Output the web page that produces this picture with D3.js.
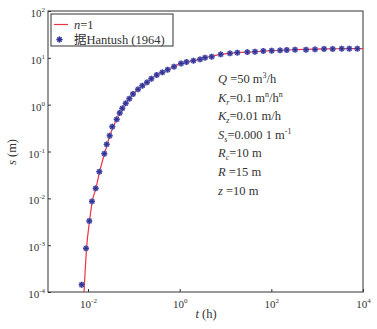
<!DOCTYPE html>
<html><head><meta charset="utf-8">
<script src="https://cdn.jsdelivr.net/npm/d3@7"></script>
<style>
body { margin: 0; background: #fff; }
svg text { font-family: "Liberation Serif", "DejaVu Serif", "Noto Sans CJK SC", serif; fill: #333; }
</style>
</head>
<body>
<svg width="377" height="329"></svg>
<script>
// Hantush (1964) points
const hantushT = [0.00729, 0.00904, 0.01067, 0.01221, 0.01472, 0.01765, 0.0227, 0.0256, 0.0297, 0.0339,
  0.0423, 0.0492, 0.056, 0.0665, 0.0797, 0.0959, 0.1233, 0.1531, 0.1937, 0.2404,
  0.3153, 0.418, 0.548, 0.753, 1.07, 1.41, 1.99, 2.78, 3.57, 5.0,
  7.87, 12.5, 18.1, 29.9, 44.1, 66.8, 102, 155, 217, 329,
  571, 898, 1413, 2183, 3434, 5023, 7510];
const hantushS = [1.43e-4, 8.57e-4, 3.28e-3, 8.63e-3, 0.01637, 0.037, 0.0897, 0.1425, 0.217, 0.338,
  0.486, 0.664, 0.836, 1.07, 1.34, 1.69, 2.13, 2.54, 3.0, 3.58,
  4.3, 4.91, 5.58, 6.47, 7.57, 8.15, 8.68, 9.3, 10.07, 10.57,
  11.9, 12.5, 12.9, 13.3, 13.5, 14.0, 14.2, 14.5, 14.7, 14.9,
  14.9, 15.2, 15.5, 15.5, 15.7, 15.7, 15.7];

// n = 1 curve
const lineT = [0.0082, 0.0093, 0.0108, 0.0124, 0.0149, 0.0179, 0.0229, 0.03, 0.042, 0.056,
  0.08, 0.123, 0.194, 0.315, 0.55, 1.07, 2.0, 3.6, 7.9, 18, 44, 100, 330, 1400, 5000, 10000];
const lineS = [1.0e-4, 8.6e-4, 3.3e-3, 8.6e-3, 0.0165, 0.037, 0.09, 0.22, 0.49, 0.84,
  1.34, 2.13, 3.0, 4.3, 5.6, 7.6, 8.7, 10.1, 11.9, 12.9, 13.5, 14.2, 14.9, 15.5, 15.7, 15.8];

const xTicks = [1e-2, 1, 1e2, 1e4];
const xTickExp = ["-2", "0", "2", "4"];
const yTicks = [1e-4, 1e-3, 1e-2, 1e-1, 1, 1e1, 1e2];
const yTickExp = ["-4", "-3", "-2", "-1", "0", "1", "2"];

const params = [
  [["Q", "i"], [" =50 m"], ["3", "sup"], ["/h"]],
  [["K", "i"], ["r", "sub"], ["=0.1 m"], ["n", "sup"], ["/h"], ["n", "sup"]],
  [["K", "i"], ["z", "sub"], ["=0.01 m/h"]],
  [["S", "i"], ["s", "sub"], ["=0.000 1 m"], ["-1", "sup"]],
  [["R", "i"], ["c", "sub"], ["=10 m"]],
  [["R", "i"], [" =15 m"]],
  [["z", "i"], [" =10 m"]]
];

const plotL = 48, plotR = 363, plotT = 11, plotB = 292;
const svg = d3.select("svg").attr("font-family", "Liberation Serif, serif");

let x = d3.scaleLog().domain([Math.pow(10, -2.873), 1e4]).range([plotL, plotR]);
let y = d3.scaleLog().domain([1e-4, 1e2]).range([plotB, plotT]);

// axes, ticks point inward
let xAxis = svg.append("g").attr("transform", "translate(0," + plotB + ")")
  .call(d3.axisBottom(x).tickValues(xTicks).tickSizeInner(-3).tickSizeOuter(0).tickFormat(""));
xAxis.select(".domain").remove();
xAxis.selectAll(".tick line").attr("stroke", "#333");
xAxis.selectAll(".tick text").attr("y", 8).attr("font-size", 11)
  .each(function(d, i) {
    let t = d3.select(this);
    t.append("tspan").text("10");
    t.append("tspan").attr("dy", -5).attr("font-size", 7).text(xTickExp[i]);
  });

let yAxis = svg.append("g").attr("transform", "translate(" + plotL + ",0)")
  .call(d3.axisLeft(y).tickValues(yTicks).tickSizeInner(-3).tickSizeOuter(0).tickFormat(""));
yAxis.select(".domain").remove();
yAxis.selectAll(".tick line").attr("stroke", "#333");
yAxis.selectAll(".tick text").attr("x", -3).attr("dy", "0.5em").attr("font-size", 11)
  .each(function(d, i) {
    let t = d3.select(this);
    t.append("tspan").text("10");
    t.append("tspan").attr("dy", -5).attr("font-size", 7).text(yTickExp[i]);
  });
xAxis.attr("font-family", null);
yAxis.attr("font-family", null);
svg.selectAll(".tick text").attr("fill", "#333");

// frame
svg.append("rect")
  .attr("x", plotL).attr("y", plotT).attr("width", plotR - plotL).attr("height", plotB - plotT)
  .attr("fill", "none").attr("stroke", "#333").attr("stroke-width", 1);

// axis titles
svg.append("text").attr("x", 206).attr("y", 318).attr("text-anchor", "middle").attr("font-size", 12.5)
  .call(t => { t.append("tspan").attr("font-style", "italic").text("t"); t.append("tspan").text(" (h)"); });
svg.append("text").attr("transform", "translate(16,152) rotate(-90)").attr("text-anchor", "middle").attr("font-size", 12.5)
  .call(t => { t.append("tspan").attr("font-style", "italic").text("s"); t.append("tspan").text(" (m)"); });

// curve
const lineData = lineT.map((t, i) => [t, lineS[i]]);
svg.append("path")
  .datum(lineData)
  .attr("fill", "none")
  .attr("stroke", "#ee3344")
  .attr("stroke-width", 1.2)
  .attr("d", d3.line().x(d => x(d[0])).y(d => y(d[1])).curve(d3.curveMonotoneX));

function drawMarker(g) {
  g.append("circle").attr("r", 2.9).attr("fill", "#7676c2");
  g.append("path").attr("d", "M-3,0H3M0,-3V3M-2.1,-2.1L2.1,2.1M-2.1,2.1L2.1,-2.1")
    .attr("stroke", "#2a2a8e").attr("stroke-width", 0.9);
}

const pts = hantushT.map((t, i) => [t, hantushS[i]]);
svg.append("g").selectAll("g")
  .data(pts)
  .enter()
  .append("g")
  .attr("transform", d => "translate(" + x(d[0]) + "," + y(d[1]) + ")")
  .each(function() { drawMarker(d3.select(this)); });

// legend
let legend = svg.append("g");
legend.append("rect").attr("x", 51).attr("y", 14).attr("width", 122).attr("height", 32)
  .attr("fill", "#fff").attr("stroke", "#333").attr("stroke-width", 1);
legend.append("line").attr("x1", 54).attr("x2", 68).attr("y1", 24.5).attr("y2", 24.5)
  .attr("stroke", "#ee3344").attr("stroke-width", 1.2);
legend.append("text").attr("x", 74).attr("y", 28.5).attr("font-size", 12.5)
  .call(t => { t.append("tspan").attr("font-style", "italic").text("n"); t.append("tspan").text("=1"); });
drawMarker(legend.append("g").attr("transform", "translate(59.5,39.5)"));
legend.append("text").attr("x", 74).attr("y", 44).attr("font-size", 12.5).text("据Hantush (1964)");

// parameter annotations
params.forEach((line, k) => {
  let t = svg.append("text").attr("x", 218).attr("y", 83 + k * 18.6).attr("font-size", 12.5);
  let shift = 0;
  line.forEach(seg => {
    let target = seg[1] === "sup" ? -5 : seg[1] === "sub" ? 3 : 0;
    let sp = t.append("tspan").text(seg[0]).attr("dy", target - shift);
    shift = target;
    if (seg[1] === "i") sp.attr("font-style", "italic");
    if (seg[1] === "sup") sp.attr("font-size", 8);
    if (seg[1] === "sub") sp.attr("font-size", 8).attr("font-style", "italic");
  });
});
</script>
</body></html>
